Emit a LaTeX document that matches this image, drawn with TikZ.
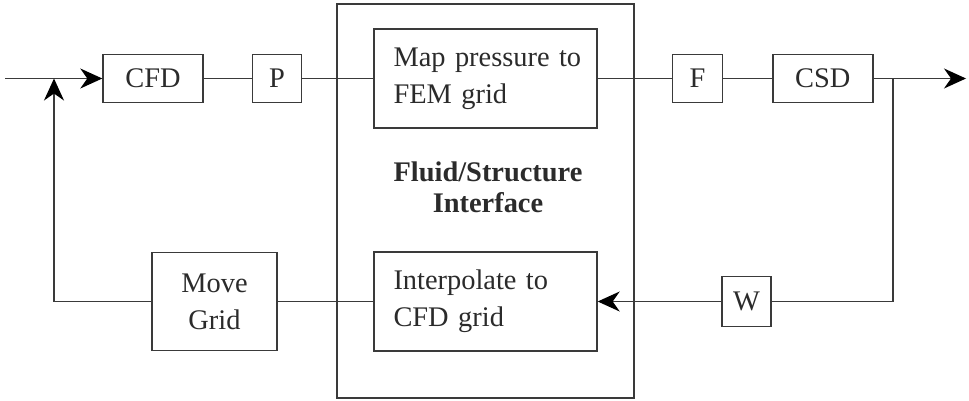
\documentclass[tikz,border=0pt]{standalone}
\usepackage{fontspec}
\setmainfont{Liberation Serif}
\usetikzlibrary{arrows.meta,positioning}
\definecolor{Ink}{HTML}{2B2B2B}
\definecolor{Line}{HTML}{3A3A3A}
\tikzset{
  block/.style={
    draw=Line, line width=0.7pt, fill=white, text=Ink,
    minimum height=24pt, inner sep=0pt, align=center
  },
  bigblock/.style={
    draw=Line, line width=0.7pt, fill=white, text=Ink,
    minimum width=111.5pt, minimum height=49.5pt, inner sep=0pt,
    text width=92pt, align=left
  },
  link/.style={draw=Line, line width=0.7pt},
  flow/.style={-{Stealth[length=11pt,width=10pt,inset=3.5pt,color=black]}, draw=Line, line width=0.7pt}
}

\begin{document}
\begin{tikzpicture}[x=0.5pt,y=-0.5pt,font=\fontsize{14.2}{18.5}\selectfont]
    \useasboundingbox (0,0) rectangle (969,401);
    % interface frame
    \node[draw=Line, line width=0.7pt, minimum width=148.5pt, minimum height=197pt, inner sep=0pt] (fsi) at (485.5,201) {};
    \node[bigblock] (map) at (485.5,78.5) {\mbox{Map pressure to}\\FEM grid};
    \node[bigblock] (interp) at (485.5,301.5) {Interpolate to\\CFD grid};
    \node[text=Ink, font=\fontsize{14.2}{15.5}\selectfont\bfseries, align=center] (fsilabel) at (488,187) {Fluid/Structure\\Interface};
    % forward chain
    \node[block,minimum width=50pt] (cfd) at (153,78.5) {CFD};
    \node[block,minimum width=24.5pt,right=24pt of cfd] (p) {P};
    \node[block,minimum width=25pt,right=37pt of map] (f) {F};
    \node[block,minimum width=50pt,right=24.5pt of f] (csd) {CSD};
    % feedback chain
    \node[block,minimum width=24.5pt,minimum height=25pt] (w) at (746.5,301.5) {W};
    \node[block,minimum width=62.5pt,minimum height=49pt] (move) at (214.5,301.5) {Move\\Grid};
    \coordinate (in) at (5,78.5);
    \coordinate (out) at (966,78.5);
    \coordinate (branch) at (893,78.5);
    \coordinate (up) at (54,78.5);
    \draw[flow] (in) -- (cfd);
    \draw[link] (cfd) -- (p);
    \draw[link] (p) -- (map);
    \draw[link] (map) -- (f);
    \draw[link] (f) -- (csd);
    \draw[flow] (csd) -- (out);
    \draw[link] (branch) |- (w);
    \draw[flow] (w) -- (interp);
    \draw[link] (interp) -- (move);
    \draw[flow] (move) -| (up);
\end{tikzpicture}
\end{document}
